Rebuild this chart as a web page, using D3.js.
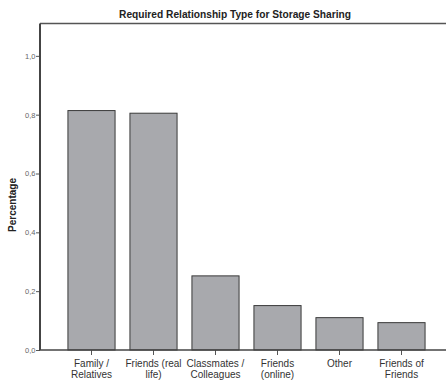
<!DOCTYPE html>
<html><head><meta charset="utf-8">
<script src="https://cdn.jsdelivr.net/npm/d3@7"></script>
<style>body{margin:0;background:#fff}svg{display:block}</style>
</head><body>
<svg id="c" width="447" height="383"></svg>
<script>
const categories = [["Family /","Relatives"],["Friends (real","life)"],["Classmates /","Colleagues"],["Friends","(online)"],["Other"],["Friends of","Friends"]];
const values = [0.814, 0.805, 0.252, 0.151, 0.110, 0.093];
const yTicks = [0, 0.2, 0.4, 0.6, 0.8, 1.0];
const title = "Required Relationship Type for Storage Sharing";
const yLabel = "Percentage";

const FONT = "'Liberation Sans', Arial, sans-serif";
const svg = d3.select("#c");
const x0 = 40, x1 = 446, yBase = 350, yTop = 23.5;
const y = d3.scaleLinear().domain([0, 1.11]).range([yBase, yTop]);
const x = d3.scaleBand().domain(d3.range(values.length)).range([60.5, 432.5]).paddingInner(0.24).paddingOuter(0.12);

// bars
svg.append("g").selectAll("rect").data(values).join("rect")
  .attr("x", (d,i) => x(i)).attr("y", d => y(d))
  .attr("width", x.bandwidth()).attr("height", d => yBase - y(d))
  .attr("fill", "#a8a9ad").attr("stroke", "#3a3a3a").attr("stroke-width", 1);

// frame
svg.append("line").attr("x1", x0).attr("x2", x1).attr("y1", yTop).attr("y2", yTop).attr("stroke", "#555").attr("stroke-width", 1.5);

// y axis
const ya = svg.append("g").attr("transform", `translate(${x0},0)`)
  .call(d3.axisLeft(y).tickValues(yTicks).tickSize(4).tickFormat(d => d3.format(".1f")(d).replace(".", ",")));
ya.select(".domain").remove();
ya.append("line").attr("x1",0).attr("x2",0).attr("y1",yTop).attr("y2",yBase).attr("stroke","#444").attr("stroke-width",2);
ya.selectAll(".tick line").attr("stroke","#555");
ya.selectAll(".tick text").attr("fill","#666").attr("font-family",FONT).attr("font-size","7.5px").attr("x",-4.5);

// x axis
const xa = svg.append("g").attr("transform", `translate(0,${yBase})`)
  .call(d3.axisBottom(x).tickSize(5).tickFormat(""));
xa.select(".domain").remove();
xa.append("line").attr("x1",x0-1).attr("x2",x1).attr("y1",0).attr("y2",0).attr("stroke","#444").attr("stroke-width",1.5);
xa.selectAll(".tick line").attr("stroke","#555");
xa.selectAll(".tick").each(function(d){
  const t = d3.select(this).append("text").attr("fill","#333").attr("text-anchor","middle")
    .attr("font-family",FONT).attr("font-size","10px");
  categories[d].forEach((s,k) => t.append("tspan").attr("x",0).attr("y",16.5 + k*11).text(s));
});

// title
svg.append("text").attr("x", 235).attr("y", 17.5).attr("text-anchor","middle")
  .attr("font-family",FONT).attr("font-size","10.2px").attr("font-weight","bold").attr("fill","#222").text(title);

// y label
svg.append("text").attr("transform","translate(16,205) rotate(-90)").attr("text-anchor","middle")
  .attr("font-family",FONT).attr("font-size","10px").attr("font-weight","bold").attr("fill","#222").text(yLabel);
</script>
</body></html>
